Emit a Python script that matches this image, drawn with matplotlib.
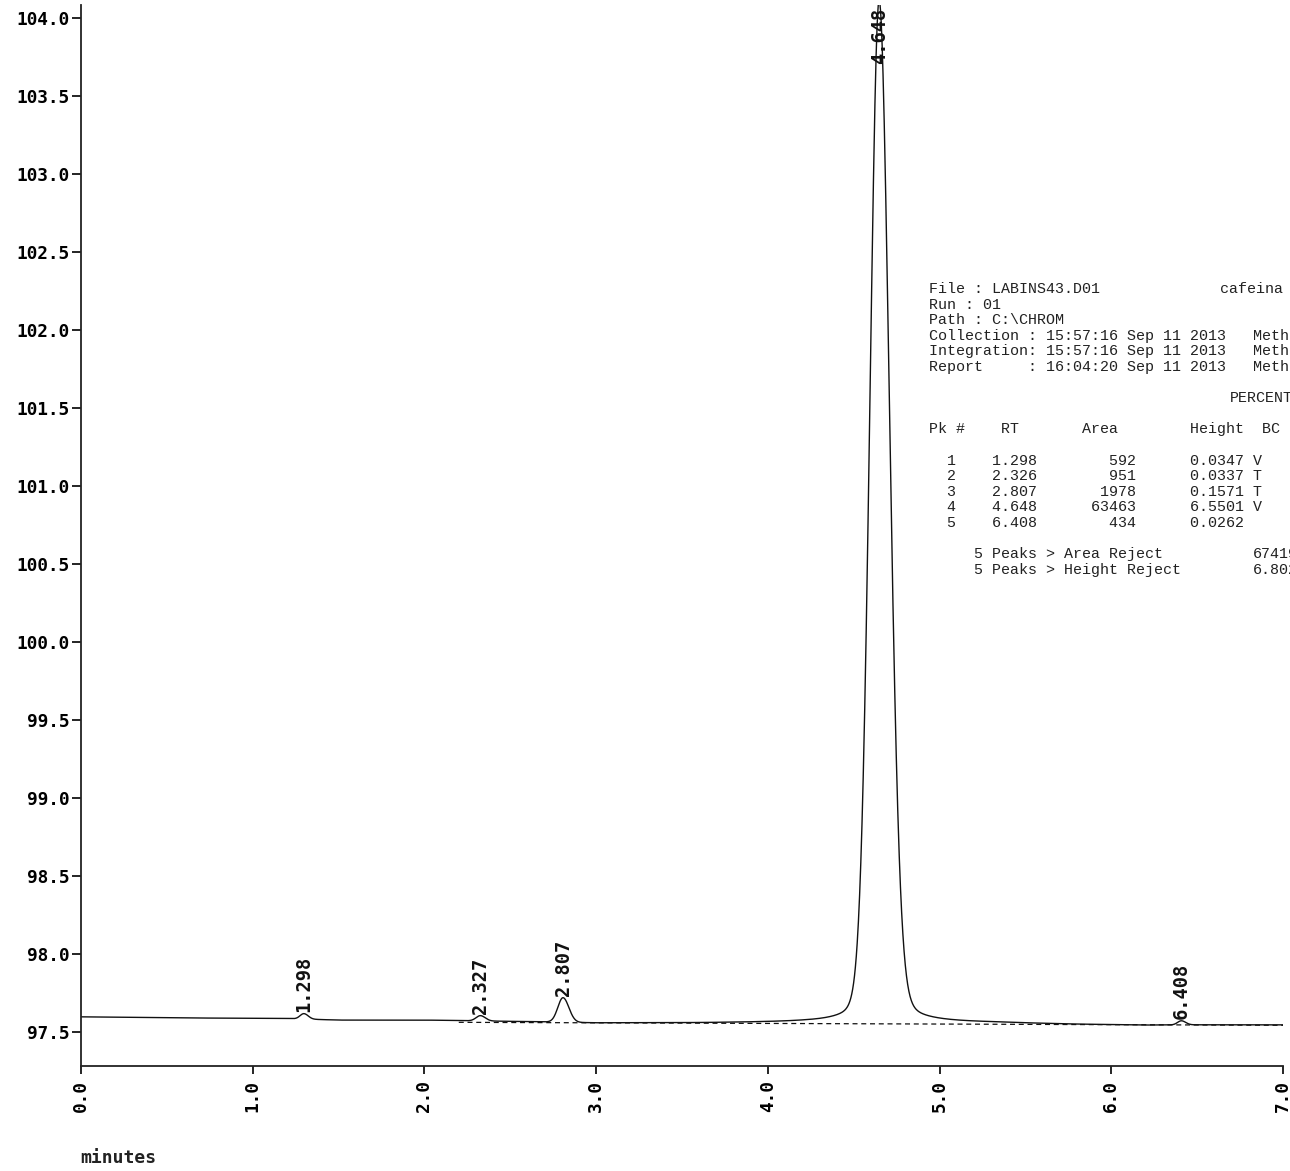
import numpy as np
import matplotlib.pyplot as plt

# peak table (integration report)
pk_num = [1, 2, 3, 4, 5]
pk_rt = [1.298, 2.326, 2.807, 4.648, 6.408]
pk_area = [592, 951, 1978, 63463, 434]
pk_height = [0.0347, 0.0337, 0.1571, 6.5501, 0.0262]
pk_bc = ["V", "T", "T", "V", ""]
pk_label = ["1.298", "2.327", "2.807", "4.648", "6.408"]

# peak shape: left/right sigma (min) and lorentzian share
pk_sig_l = [0.022, 0.025, 0.030, 0.054, 0.022]
pk_sig_r = [0.025, 0.028, 0.034, 0.060, 0.025]
pk_eta = [0.0, 0.0, 0.0, 0.12, 0.0]

# detector baseline drift
base_t = [0.0, 0.6, 1.2, 1.5, 2.0, 2.6, 3.0, 3.6, 4.2, 4.45, 5.3, 5.8, 6.2, 6.5, 7.0]
base_v = [97.597, 97.590, 97.586, 97.576, 97.576, 97.566, 97.558, 97.558,
          97.562, 97.562, 97.558, 97.548, 97.543, 97.545, 97.545]

# integration baseline (dashed)
intb_t = [2.2, 7.0]
intb_v = [97.562, 97.543]

xticks = [0, 1, 2, 3, 4, 5, 6, 7]
yticks = [97.5, 98.0, 98.5, 99.0, 99.5, 100.0, 100.5, 101.0,
          101.5, 102.0, 102.5, 103.0, 103.5, 104.0]


def peak(t, rt, h, sl, sr, eta):
    s = np.where(t < rt, sl, sr)
    g = np.exp(-0.5 * ((t - rt) / s) ** 2)
    gam = 1.1774 * s
    lz = 1.0 / (1.0 + ((t - rt) / gam) ** 2)
    return h * ((1 - eta) * g + eta * lz)


t = np.linspace(0, 7, 4001)
sig = np.interp(t, base_t, base_v)
for i in range(len(pk_rt)):
    sig = sig + peak(t, pk_rt[i], pk_height[i], pk_sig_l[i], pk_sig_r[i], pk_eta[i])

W, H = 1290, 1171
fig = plt.figure(figsize=(W / 100, H / 100), dpi=100)
ax = fig.add_axes([81 / W, 1 - 1066 / H, (1283 - 81) / W, (1066 - 5) / H])

ax.plot(t, sig, color="#111111", lw=1.0)
ax.plot(intb_t, intb_v, color="#111111", lw=0.9, ls=(0, (4, 3)))

ax.set_xlim(0, 7)
ax.set_ylim(97.282, 104.083)
for s in ["top", "right"]:
    ax.spines[s].set_visible(False)
for s in ["left", "bottom"]:
    ax.spines[s].set_linewidth(1.3)
    ax.spines[s].set_color("#222222")

tickfont = dict(family="DejaVu Sans Mono", weight="bold", size=12.8)
ax.set_xticks(xticks)
ax.set_xticklabels([f"{v:.1f}" for v in xticks], rotation=90, **tickfont)
ax.set_yticks(yticks)
ax.set_yticklabels([f"{v:.1f}" for v in yticks], **tickfont)
ax.tick_params(axis="y", direction="out", length=6.5, width=1.2, pad=1.5)
ax.tick_params(axis="x", direction="out", length=6, width=1.2, pad=4)

# retention time labels above each peak
labfont = dict(family="DejaVu Sans Mono", weight="bold", size=13.5)
top = ax.get_ylim()[1]
for i in range(len(pk_rt)):
    apex = np.interp(pk_rt[i], t, sig)
    if apex + 0.4 > top:
        ax.text(pk_rt[i], top - 0.02, pk_label[i], rotation=90, ha="center",
                va="top", color="#111111", **labfont)
    else:
        ax.text(pk_rt[i], apex + 0.012, pk_label[i], rotation=90, ha="center",
                va="bottom", color="#111111", **labfont)

fig.text(80 / W, 1 - 1158 / H, "minutes", ha="left", va="center",
         family="DejaVu Sans Mono", weight="bold", size=13, color="#222222")

# report block, left column
lines = [
    "File : LABINS43.D01",
    "Run : 01",
    "Path : C:\\CHROM",
    "Collection : 15:57:16 Sep 11 2013",
    "Integration: 15:57:16 Sep 11 2013",
    "Report     : 16:04:20 Sep 11 2013",
    "",
    "",
    "",
    "Pk #    RT       Area        Height  BC",
    "",
]
for i in range(len(pk_num)):
    lines.append(f"{pk_num[i]:>3}    {pk_rt[i]:.3f}{pk_area[i]:>11}      {pk_height[i]:.4f} {pk_bc[i]}")
lines.append("")
lines.append(f"     {len(pk_num)} Peaks > Area Reject")
lines.append(f"     {len(pk_num)} Peaks > Height Reject")

# right column entries: (line index, x pixel, text)
right_items = [
    (0, 1220, "cafeina"),
    (3, 1253, "Meth"),
    (4, 1253, "Meth"),
    (5, 1253, "Meth"),
    (7, 1230, "PERCENT"),
    (17, 1253, f"{sum(pk_area) + 1}"),
    (18, 1253, f"{sum(pk_height):.3f}"),
]

repfont = dict(family="Liberation Mono", size=10.8, color="#222222")
for k, ln in enumerate(lines):
    y = 289 + 15.6 * k
    fig.text(929 / W, 1 - y / H, ln, ha="left", va="center", **repfont)
for k, x, txt in right_items:
    y = 289 + 15.6 * k
    fig.text(x / W, 1 - y / H, txt, ha="left", va="center", **repfont)

fig.savefig("out.png", dpi=100, facecolor="white")
